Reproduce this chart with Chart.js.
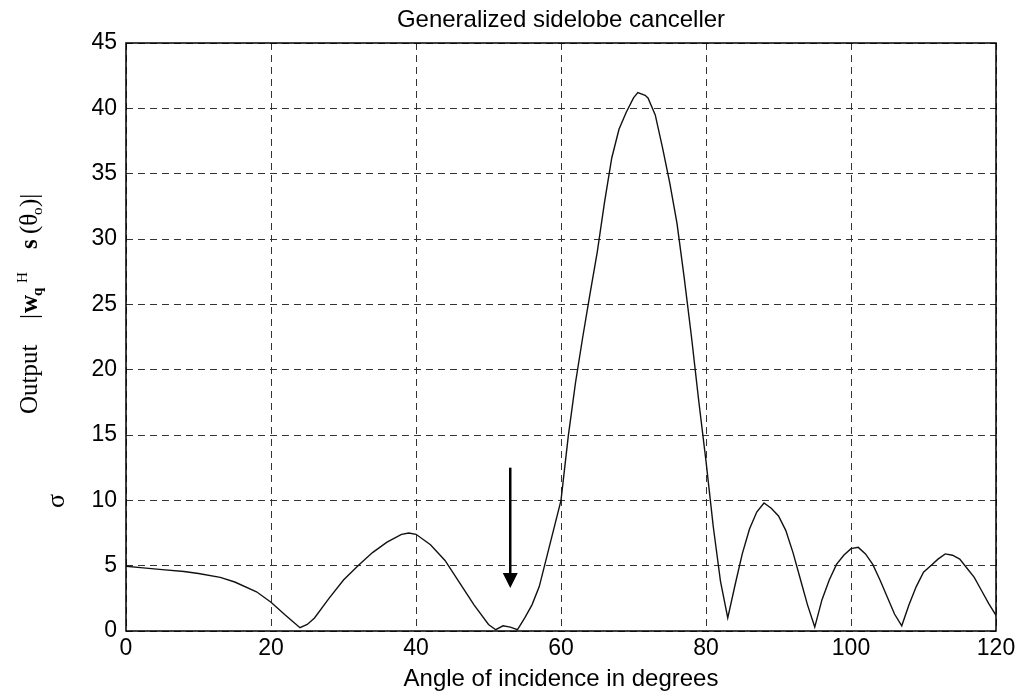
<!DOCTYPE html>
<html>
<head>
<meta charset="utf-8">
<script src="https://cdn.jsdelivr.net/npm/chart.js@4"></script>
<style>
  html, body { margin: 0; padding: 0; background: #fff; }
  #wrap { width: 1026px; height: 696px; }
</style>
</head>
<body>
<div id="wrap"><canvas id="gscChart" width="1026" height="696"></canvas></div>
<script>
// Datos
const angles = [0, 2, 5, 8, 10, 13, 15, 18, 20, 22, 24, 25, 26, 28, 30, 32, 34, 36, 38, 39, 40,
  42, 44, 46, 48, 50, 51, 52, 53, 54, 55, 56, 57, 58, 59, 60, 61, 62, 63, 64, 65, 66, 67, 68,
  69, 70, 70.6, 71.6, 72, 73, 74, 75, 76, 77, 78, 79, 80, 81, 82, 83, 84, 85, 86, 87, 88, 89,
  90, 91, 92, 93, 94, 95, 96, 97, 98, 99, 100, 101, 102, 103, 104, 105, 106, 107, 108, 109,
  110, 111, 112, 113, 114, 115, 116, 117, 118, 119, 120];
const outputs = [4.95, 4.85, 4.7, 4.55, 4.4, 4.1, 3.75, 3.0, 2.2, 1.2, 0.25, 0.5, 1.0, 2.5, 3.9,
  5.0, 6.0, 6.8, 7.4, 7.5, 7.4, 6.6, 5.4, 3.7, 2.0, 0.5, 0.1, 0.4, 0.3, 0.1, 1.0, 2.0, 3.4,
  5.6, 7.8, 10.0, 14.9, 19.0, 22.5, 25.8, 29.0, 32.8, 36.2, 38.4, 39.7, 40.8, 41.2, 41.0,
  40.8, 39.5, 37.0, 34.3, 31.2, 27.0, 22.5, 17.6, 13.0, 8.0, 3.8, 1.0, 3.5, 5.9, 7.8, 9.1,
  9.8, 9.4, 8.8, 7.7, 6.0, 4.0, 2.0, 0.3, 2.4, 3.9, 5.1, 5.8, 6.3, 6.4, 5.9, 5.1, 3.9, 2.6,
  1.3, 0.4, 2.0, 3.4, 4.5, 5.0, 5.5, 5.9, 5.8, 5.5, 4.8, 4.1, 3.1, 2.1, 1.2];

const xTicks = [0, 20, 40, 60, 80, 100, 120];
const yTicks = [0, 5, 10, 15, 20, 25, 30, 35, 40, 45];

const chartTitle = 'Generalized sidelobe canceller';

// Flecha que marca la direccion de la senal
const arrowAngle = 53;
const arrowFrom = 12.5;
const arrowTo = 3.3;

const SANS = '"Liberation Sans", Arial, sans-serif';
const SERIF = '"Liberation Serif", "Times New Roman", serif';

// Titulo, marco, flecha y etiqueta del eje Y
const extrasPlugin = {
    id: 'extras',
    afterDatasetsDraw(chart) {
        const { ctx, chartArea: a, scales: { x, y } } = chart;
        ctx.save();

        // Titulo centrado sobre el area del grafico
        ctx.fillStyle = '#000';
        ctx.font = '24px ' + SANS;
        ctx.textAlign = 'center';
        ctx.textBaseline = 'middle';
        ctx.fillText(chartTitle, (a.left + a.right) / 2, 20);

        // Marco negro
        ctx.strokeStyle = '#000';
        ctx.lineWidth = 1.5;
        ctx.setLineDash([]);
        ctx.strokeRect(a.left, a.top, a.right - a.left, a.bottom - a.top);

        // Flecha
        const ax = x.getPixelForValue(arrowAngle);
        const y1 = y.getPixelForValue(arrowFrom);
        const y2 = y.getPixelForValue(arrowTo);
        ctx.lineWidth = 2.5;
        ctx.beginPath();
        ctx.moveTo(ax, y1);
        ctx.lineTo(ax, y2 - 14);
        ctx.stroke();
        ctx.beginPath();
        ctx.moveTo(ax - 7.5, y2 - 15);
        ctx.lineTo(ax + 7.5, y2 - 15);
        ctx.lineTo(ax, y2);
        ctx.closePath();
        ctx.fill();

        // Etiqueta eje Y: Output |w_q^H s (θ_o)|
        ctx.translate(37, 417);
        ctx.rotate(-Math.PI / 2);
        ctx.textBaseline = 'alphabetic';
        ctx.textAlign = 'left';
        const piece = (txt, font, u, dy) => {
            ctx.font = font;
            ctx.fillText(txt, u, dy || 0);
        };
        piece('Output', '25px ' + SERIF, 3);
        piece('|', '25px ' + SERIF, 98);
        piece('w', 'bold 25px ' + SERIF, 104);
        piece('q', 'bold 15px ' + SERIF, 121, 5);
        piece('H', '15px ' + SERIF, 134, -10);
        piece('s', 'bold 25px ' + SERIF, 168);
        piece('(\u03b8', '25px ' + SERIF, 183);
        piece('o', '15px ' + SERIF, 202, 5);
        piece(')|', '25px ' + SERIF, 210);

        ctx.setTransform(1, 0, 0, 1, 0, 0);
        // Marca suelta junto al eje
        ctx.translate(64, 501);
        ctx.rotate(-Math.PI / 2);
        ctx.font = '26px ' + SERIF;
        ctx.textAlign = 'center';
        ctx.fillText('\u03c3', 0, 0);
        ctx.restore();
    }
};

const points = angles.map((a, i) => ({ x: a, y: outputs[i] }));

new Chart(document.getElementById('gscChart'), {
    type: 'line',
    data: {
        datasets: [{
            data: points,
            borderColor: '#111',
            borderWidth: 1.4,
            pointRadius: 0,
            tension: 0,
            fill: false
        }]
    },
    options: {
        responsive: false,
        animation: false,
        devicePixelRatio: 1,
        layout: { padding: { left: 0, right: 30, top: 43, bottom: 0 } },
        plugins: {
            legend: { display: false },
            tooltip: { enabled: false },
            title: { display: false }
        },
        scales: {
            x: {
                type: 'linear',
                min: 0,
                max: 120,
                afterBuildTicks: s => { s.ticks = xTicks.map(v => ({ value: v })); },
                afterFit: s => { s.height = 65; },
                grid: { color: '#333', lineWidth: 1, drawTicks: false },
                border: { display: false, dash: [7, 5] },
                ticks: { color: '#000', padding: 4, font: { family: SANS, size: 23 } },
                title: {
                    display: true,
                    text: 'Angle of incidence in degrees',
                    color: '#000',
                    font: { family: SANS, size: 24 },
                    padding: { top: 0, bottom: 2 }
                }
            },
            y: {
                min: 0,
                max: 45,
                afterBuildTicks: s => { s.ticks = yTicks.map(v => ({ value: v })); },
                afterFit: s => { s.width = 126; },
                grid: { color: '#333', lineWidth: 1, drawTicks: false },
                border: { display: false, dash: [7, 5] },
                ticks: { color: '#000', padding: 9, font: { family: SANS, size: 23 } }
            }
        }
    },
    plugins: [extrasPlugin]
});
</script>
</body>
</html>
